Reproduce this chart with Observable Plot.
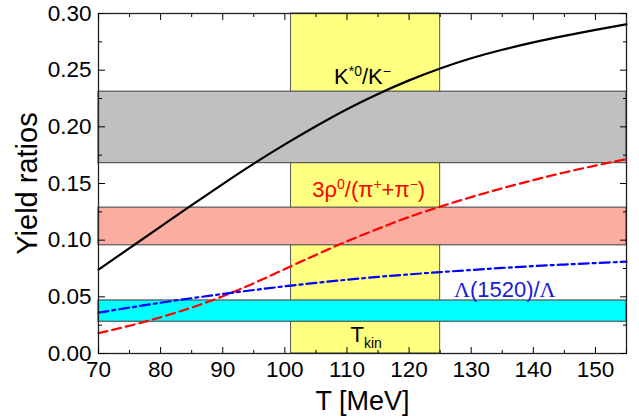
<!DOCTYPE html>
<html><head><meta charset="utf-8">
<script src="https://cdn.jsdelivr.net/npm/d3@7"></script>
<script src="https://cdn.jsdelivr.net/npm/@observablehq/plot@0.6"></script>
<style>body{margin:0;background:#fff}</style>
</head><body><div id="chart"></div>
<script>
// Temperature grid (MeV)
const temps = [70, 75, 80, 85, 90, 95, 100, 105, 110, 115, 120, 125, 130, 135, 140, 145, 150, 155];
// K*0/K- ratio (black solid)
const kstarRatio = [0.074, 0.093, 0.112, 0.131, 0.1495, 0.1675, 0.1845, 0.2005, 0.2155, 0.229, 0.241, 0.2515, 0.2605, 0.268, 0.2745, 0.2802, 0.2855, 0.2905];
// 3rho0/(pi+ + pi-) ratio (red dashed)
const rhoRatio = [0.018, 0.0245, 0.032, 0.0405, 0.0505, 0.062, 0.0745, 0.087, 0.099, 0.110, 0.1205, 0.1295, 0.138, 0.1458, 0.153, 0.1597, 0.1658, 0.1715];
// Lambda(1520)/Lambda ratio (blue dash-dot)
const lambdaRatio = [0.036, 0.0405, 0.0448, 0.0488, 0.0525, 0.056, 0.0593, 0.0623, 0.0651, 0.0676, 0.0698, 0.0718, 0.0737, 0.0755, 0.0771, 0.0785, 0.0798, 0.081];

// Measured bands
const bandNames = ["K*0/K-", "3rho0/(pi++pi-)", "Lambda(1520)/Lambda"];
const bandLow = [0.168, 0.0955, 0.028];
const bandHigh = [0.231, 0.1287, 0.0468];
const bandColors = ["#c0c0c0", "#fbae9f", "#00ffff"];

// Kinetic freeze-out temperature band
const tkinLow = [101];
const tkinHigh = [125];

// Axis ticks
const xTicks = [70, 80, 90, 100, 110, 120, 130, 140, 150];
const xMinor = [75, 85, 95, 105, 115, 125, 135, 145, 155];
const yTicks = [0, 0.05, 0.10, 0.15, 0.20, 0.25, 0.30];
const yMinor = [0.025, 0.075, 0.125, 0.175, 0.225, 0.275];

// Curve labels
const labelText = ["K*0/K−", "3ρ0/(π++π−)", "Λ(1520)/Λ", "Tkin"];
const labelT = [112.5, 113.5, 135.4, 113.1];
const labelY = [0.238, 0.138, 0.0497, 0.0099];
const labelColor = ["#000000", "#ff0000", "#1a1ad8", "#000000"];

const curves = [
  {name: "kstar", values: kstarRatio, stroke: "#000000", dash: null},
  {name: "rho", values: rhoRatio, stroke: "#ff0000", dash: "9,5"},
  {name: "lambda", values: lambdaRatio, stroke: "#0000ff", dash: "10,4,3,4"}
];
const curveRows = curves.map(c => temps.map((t, i) => ({T: t, v: c.values[i]})));
const bands = bandNames.map((n, i) => ({name: n, lo: bandLow[i], hi: bandHigh[i], color: bandColors[i]}));
const tkin = tkinLow.map((lo, i) => ({lo, hi: tkinHigh[i]}));
const labels = labelText.map((t, i) => ({text: t, T: labelT[i], y: labelY[i], color: labelColor[i]}));

const font = "'Liberation Sans', Arial, Helvetica, sans-serif";

const chart = Plot.plot({
  width: 639,
  height: 417,
  marginLeft: 98,
  marginRight: 13,
  marginTop: 13,
  marginBottom: 64,
  style: {fontFamily: font, fontSize: "22px", background: "#fff", color: "#000"},
  x: {domain: [70, 155]},
  y: {domain: [0, 0.30]},
  marks: [
    Plot.rect(tkin, {x1: "lo", x2: "hi", y1: 0, y2: 0.30, fill: "#ffff80", stroke: "#555", strokeWidth: 1}),
    Plot.rect(bands, {x1: 70, x2: 155, y1: "lo", y2: "hi", fill: "color", stroke: "#555", strokeWidth: 1.2}),
    ...curves.map((c, k) => Plot.line(curveRows[k], {x: "T", y: "v", stroke: c.stroke, strokeWidth: 2.2, strokeDasharray: c.dash, curve: "natural"})),
    Plot.text(labels, {x: "T", y: "y", text: "text", fill: "color", fontSize: 22, lineAnchor: "bottom", textAnchor: "middle"}),
    Plot.frame({stroke: "#222", strokeWidth: 1.3}),
    // major ticks + labels
    Plot.axisY(yTicks, {anchor: "left", tickSize: -7, tickPadding: 14, tickFormat: d3.format(".2f"), fontSize: 22.5, label: null}),
    Plot.axisY(yTicks, {anchor: "right", tickSize: -7, fill: "none", label: null}),
    Plot.axisY(yMinor, {anchor: "left", tickSize: -4, fill: "none", label: null}),
    Plot.axisY(yMinor, {anchor: "right", tickSize: -4, fill: "none", label: null}),
    Plot.axisX(xTicks, {anchor: "bottom", tickSize: -6, tickPadding: 14, fontSize: 22.5, label: null}),
    Plot.axisX(xTicks, {anchor: "top", tickSize: -6, fill: "none", label: null}),
    Plot.axisX(xMinor, {anchor: "bottom", tickSize: -3, fill: "none", label: null}),
    Plot.axisX(xMinor, {anchor: "top", tickSize: -3, fill: "none", label: null}),
    // axis titles
    Plot.text(["Yield ratios"], {frameAnchor: "left", dx: -71, rotate: -90, textAnchor: "middle", fontSize: 29, text: d => d}),
    Plot.text(["T [MeV]"], {frameAnchor: "bottom", dy: 56, lineAnchor: "bottom", textAnchor: "middle", fontSize: 27, text: d => d})
  ]
});
document.getElementById("chart").appendChild(chart);

// Superscripts / subscripts for the curve labels
const sup = s => `<tspan dy="-8" font-size="14">${s}</tspan>`;
const markup = {
  "K*0/K−": `K${sup("*0")}<tspan dy="8">/K</tspan>${sup("−")}`,
  "3ρ0/(π++π−)": `3ρ${sup("0")}<tspan dy="8">/(π</tspan>${sup("+")}<tspan dy="8">+π</tspan>${sup("−")}<tspan dy="8">)</tspan>`,
  "Λ(1520)/Λ": `<tspan font-family="'Liberation Serif', serif">Λ</tspan>(1520)/<tspan font-family="'Liberation Serif', serif">Λ</tspan>`,
  "Tkin": `T<tspan dy="6" font-size="14">kin</tspan>`
};
d3.select(chart).selectAll("text").each(function() {
  const t = this.textContent;
  if (markup[t]) this.innerHTML = markup[t];
});
</script>
</body></html>
